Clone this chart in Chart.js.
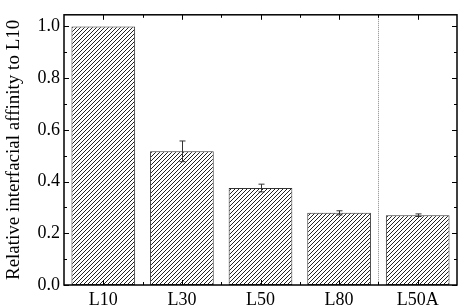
<!DOCTYPE html>
<html>
<head>
<meta charset="utf-8">
<script src="https://cdn.jsdelivr.net/npm/chart.js@4"></script>
<style>
    html, body { margin: 0; padding: 0; background: #fff; }
    #wrap { width: 459px; height: 306px; }
</style>
</head>
<body>
<div id="wrap"><canvas id="chart"></canvas></div>
<script>
const categories = ['L10', 'L30', 'L50', 'L80', 'L50A'];
const affinity = [1.0, 0.517, 0.375, 0.279, 0.27];
const affinityErr = [0, 0.04, 0.015, 0.008, 0.005];
const yTicks = [0.0, 0.2, 0.4, 0.6, 0.8, 1.0];
const yMinorStep = 0.1;
const separatorAt = 3.5;

const makeHatch = () => {
    const c = document.createElement('canvas');
    c.width = 4;
    c.height = 4;
    const g = c.getContext('2d');
    g.fillStyle = '#fff';
    g.fillRect(0, 0, 4, 4);
    g.strokeStyle = '#222';
    g.lineWidth = 1;
    g.beginPath();
    g.moveTo(-1, 5);
    g.lineTo(5, -1);
    g.moveTo(-3, 3);
    g.lineTo(3, -3);
    g.moveTo(1, 7);
    g.lineTo(7, 1);
    g.stroke();
    return g.createPattern(c, 'repeat');
};

const framePlugin = {
    id: 'frame',
    afterDatasetsDraw(chart) {
        const { ctx, chartArea: a, scales } = chart;
        const x = scales.x;
        const y = scales.y;
        ctx.save();

        // error bars
        ctx.strokeStyle = '#333';
        ctx.lineWidth = 1;
        affinity.forEach((v, i) => {
            const e = affinityErr[i];
            if (!e) return;
            const px = Math.round(x.getPixelForValue(i)) + 0.5;
            const top = y.getPixelForValue(v + e);
            const bot = y.getPixelForValue(v - e);
            ctx.beginPath();
            ctx.moveTo(px, top);
            ctx.lineTo(px, bot);
            ctx.moveTo(px - 3, top);
            ctx.lineTo(px + 3, top);
            ctx.moveTo(px - 3, bot);
            ctx.lineTo(px + 3, bot);
            ctx.stroke();
        });

        // dotted separator
        const sx = Math.round(x.getPixelForValue(separatorAt)) + 0.5;
        ctx.strokeStyle = '#888';
        ctx.setLineDash([1, 1]);
        ctx.beginPath();
        ctx.moveTo(sx, a.top);
        ctx.lineTo(sx, a.bottom);
        ctx.stroke();
        ctx.setLineDash([]);

        // ticks, pointing inward, mirrored
        ctx.strokeStyle = '#000';
        ctx.lineWidth = 1;
        ctx.beginPath();
        for (let i = 0; i < categories.length; i++) {
            const px = Math.round(x.getPixelForValue(i)) + 0.5;
            ctx.moveTo(px, a.bottom);
            ctx.lineTo(px, a.bottom - 5);
            ctx.moveTo(px, a.top);
            ctx.lineTo(px, a.top + 5);
            if (i < categories.length - 1) {
                const mx = Math.round(x.getPixelForValue(i + 0.5)) + 0.5;
                ctx.moveTo(mx, a.bottom);
                ctx.lineTo(mx, a.bottom - 3);
                ctx.moveTo(mx, a.top);
                ctx.lineTo(mx, a.top + 3);
            }
        }
        for (let k = 0; k * yMinorStep <= y.max + 1e-9; k++) {
            const v = k * yMinorStep;
            const py = Math.round(y.getPixelForValue(v)) + 0.5;
            const len = k % 2 === 0 ? 5 : 3;
            ctx.moveTo(a.left, py);
            ctx.lineTo(a.left + len, py);
            ctx.moveTo(a.right, py);
            ctx.lineTo(a.right - len, py);
        }
        ctx.stroke();

        // frame
        ctx.lineWidth = 1.5;
        ctx.strokeRect(a.left, a.top, a.right - a.left, a.bottom - a.top);
        ctx.restore();
    },
};

new Chart(document.getElementById('chart'), {
    type: 'bar',
    data: {
        labels: categories,
        datasets: [
            {
                data: affinity,
                backgroundColor: makeHatch(),
                borderColor: '#333',
                borderWidth: 1,
                borderSkipped: false,
                categoryPercentage: 1,
                barPercentage: 0.81,
            },
        ],
    },
    options: {
        responsive: true,
        maintainAspectRatio: false,
        animation: false,
        layout: { padding: { left: 3, right: 2, top: 4, bottom: 0 } },
        plugins: {
            legend: { display: false },
            tooltip: { enabled: false },
        },
        scales: {
            x: {
                grid: { display: false, drawTicks: false },
                border: { display: false },
                ticks: {
                    color: '#000',
                    padding: 4,
                    font: { family: 'Liberation Serif', size: 18 },
                },
                afterFit: (s) => { s.height = 21; },
            },
            y: {
                min: 0,
                max: 1.045,
                grid: { display: false, drawTicks: false },
                border: { display: false },
                afterBuildTicks: (s) => {
                    s.ticks = yTicks.map((v) => ({ value: v }));
                },
                ticks: {
                    color: '#000',
                    padding: 4,
                    font: { family: 'Liberation Serif', size: 18 },
                    callback: (v) => Number(v).toFixed(1),
                },
                title: {
                    display: true,
                    text: 'Relative interfacial affinity to L10',
                    color: '#000',
                    padding: 0,
                    font: { family: 'Liberation Serif', size: 19 },
                },
                afterFit: (s) => { s.width = 61; },
            },
        },
    },
    plugins: [framePlugin],
});
</script>
</body>
</html>
